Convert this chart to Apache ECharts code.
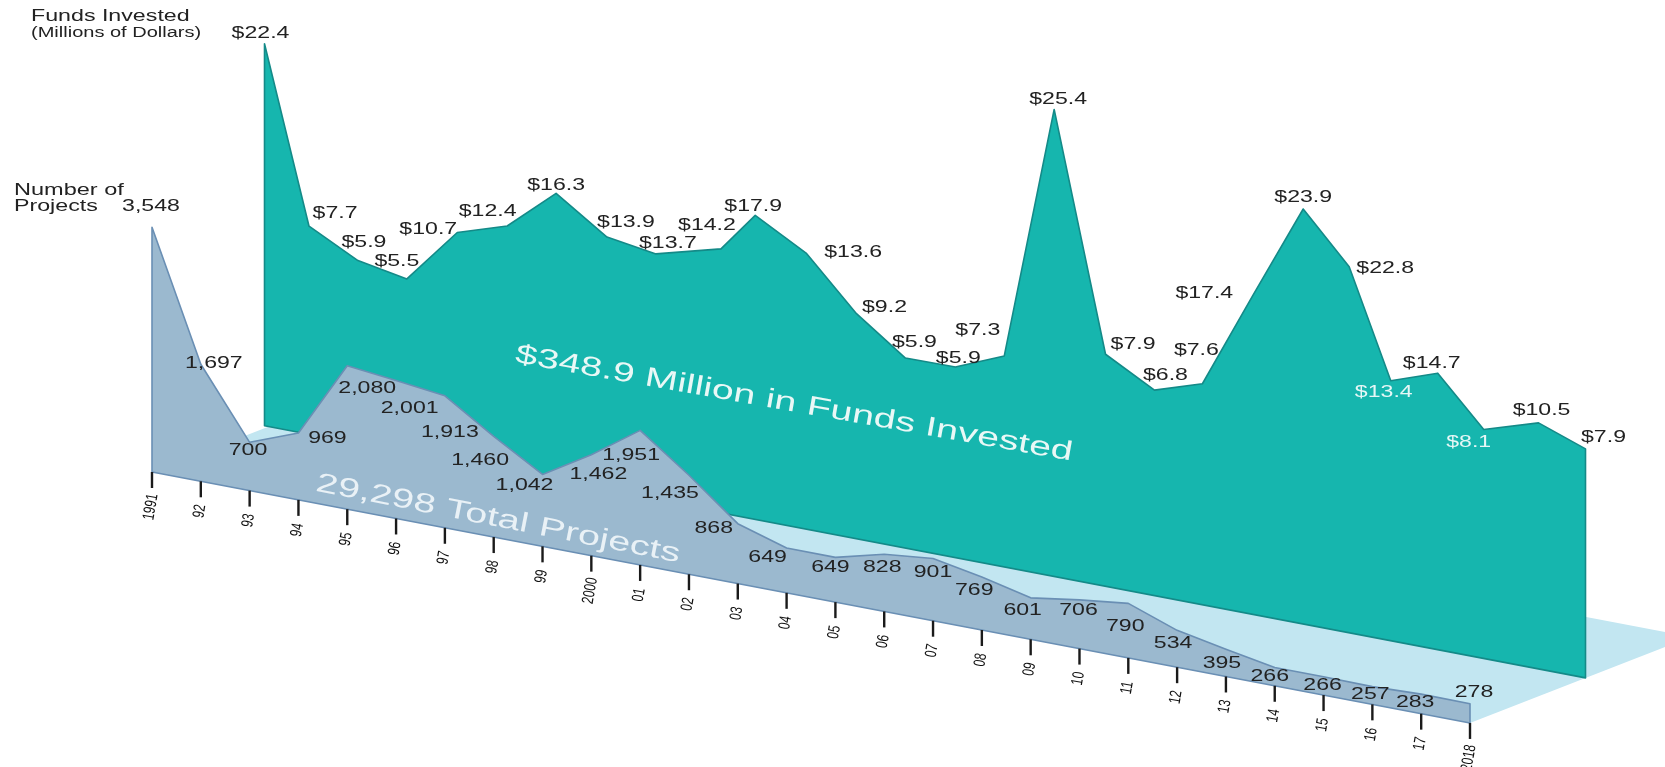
<!DOCTYPE html>
<html>
<head>
<meta charset="utf-8">
<style>html,body{margin:0;padding:0;background:#fff}#c{width:1665px;height:767px}</style>
<script src="https://cdn.jsdelivr.net/npm/echarts@6/dist/echarts.min.js"></script>
</head>
<body>
<div id="c"></div>
<script>
// ---- values ----
const years = [1991,1992,1993,1994,1995,1996,1997,1998,1999,2000,2001,2002,2003,2004,2005,2006,2007,2008,2009,2010,2011,2012,2013,2014,2015,2016,2017,2018];
const tickLabels = ['1991','92','93','94','95','96','97','98','99','2000','01','02','03','04','05','06','07','08','09','10','11','12','13','14','15','16','17','2018'];
const projects = [3548,1697,700,969,2080,2001,1913,1460,1042,1462,1951,1435,868,649,649,828,901,769,601,706,790,534,395,266,266,257,283,278];
const fundsLabels = ['$22.4','$7.7','$5.9','$5.5','$10.7','$12.4','$16.3','$13.9','$13.7','$14.2','$17.9','$13.6','$9.2','$5.9','$5.9','$7.3','$25.4','$7.9','$6.8','$7.6','$17.4','$23.9','$22.8','$13.4','$14.7','$8.1','$10.5','$7.9'];
// The original's funds silhouette is not proportional to its printed values: these are the
// silhouette's heights and year positions as drawn, on the panel's own axis.
const fundsDrawnHeight = [382,208,183,174,230,246,288,254,246.5,264,304,276,225,190,190.5,211,467,232,205.5,221,318,415,366,260,276.5,229,246,229];
const fundsDrawnYear = [1991,1991.91,1992.91,1993.91,1994.94,1995.96,1996.96,1998,1999,2000.33,2001.03,2002.07,2003.1,2004.1,2005.12,2006.12,2007.14,2008.19,2009.19,2010.17,2011.19,2012.23,2013.17,2014.02,2014.98,2015.92,2017.04,2018];

// ---- layout ----
const FONT = '"Liberation Sans", Arial, sans-serif';
const FRONT_SLOPE = 0.1904, BACK_SLOPE = 0.1909;
const FLOOR_DEPTH = [221, -86];
const fundsLabelNudge = [[-4,-10],[26,-13],[6,-18],[-10,-17],[-29,-3],[-19.5,-15],[0,-8],[19,-15],[12,-10],[-14,-23],[-2,-9],[47,-1],[28,-6],[9,-16],[3,-9],[-26.5,-25],[4,-10],[27.5,-10],[11,-15],[-6,-33],[-48,-3],[0,-12],[36,2],[-7,12],[-6,-10],[-15,13],[3,-12],[18,-11.5]];
const fundsWhiteLabels = [23,25];
const projectLabelNudge = [[-1,-20.5],[13,-1],[-1.6,8.2],[29,5.5],[20,23],[13.6,27.5],[5,37],[-13.6,23.7],[-18,10.6],[7,20],[-9,25],[-19,18],[-24,5.2],[-19,9.5],[-5,10.5],[-2,13.2],[0,14],[-7.6,13.5],[-8,12.5],[-1,10.5],[-3,23.2],[-4,13.5],[-4,14.5],[-5,9.5],[-1,8.5],[-2,7.9],[-6,8.5],[4,-11]];

function sheared(api, x, v, slope) {
  const p = api.coord([x, v]);
  const p0 = api.coord([years[0], 0]);
  return [p[0], p[1] + slope * (p[0] - p0[0])];
}
function label(text, p, fill, size, sx) {
  return { type:'text', x:p[0], y:p[1], scaleX:sx || 1.4,
    style:{ text:text, fill:fill, font:(size||16.5)+'px '+FONT, align:'center', verticalAlign:'middle' } };
}
function panel(api, xs, vs, slope, fill, stroke) {
  const pts = xs.map((x,i)=>sheared(api,x,vs[i],slope));
  pts.push(sheared(api,xs[xs.length-1],0,slope));
  pts.push(sheared(api,xs[0],0,slope));
  return { type:'polygon', shape:{points:pts}, style:{fill:fill, stroke:stroke, lineWidth:1.6, lineJoin:'round'} };
}

const series = [
  { // floor
    type:'custom', coordinateSystem:'cartesian2d', xAxisIndex:0, yAxisIndex:0, z:1, silent:true,
    data:[[years[0],0]], encode:{x:0,y:1},
    renderItem:(params,api)=>{
      const a = sheared(api,years[0],0,FRONT_SLOPE), d = sheared(api,years[27],0,FRONT_SLOPE);
      return { type:'polygon', shape:{points:[a,[a[0]+FLOOR_DEPTH[0],a[1]+FLOOR_DEPTH[1]],[d[0]+FLOOR_DEPTH[0],d[1]+FLOOR_DEPTH[1]],d]},
        style:{fill:'#c2e6f1'} };
    }
  },
  { // funds panel
    type:'custom', coordinateSystem:'cartesian2d', xAxisIndex:1, yAxisIndex:1, z:2, silent:true,
    data:[[fundsDrawnYear[0],fundsDrawnHeight[0]]], encode:{x:0,y:1},
    renderItem:(params,api)=>panel(api,fundsDrawnYear,fundsDrawnHeight,BACK_SLOPE,'#16b6ae','#148a88')
  },
  { // projects panel
    type:'custom', coordinateSystem:'cartesian2d', xAxisIndex:0, yAxisIndex:0, z:3, silent:true,
    data:[[years[0],projects[0]]], encode:{x:0,y:1},
    renderItem:(params,api)=>panel(api,years,projects,FRONT_SLOPE,'#9bb9cf','#6a8fb4')
  },
  { // ticks and their rotated year labels
    type:'custom', coordinateSystem:'cartesian2d', xAxisIndex:0, yAxisIndex:0, z:4, silent:true,
    data:years.map(y=>[y,0]), encode:{x:0,y:1},
    renderItem:(params,api)=>{
      const i = params.dataIndex, b = sheared(api,api.value(0),0,FRONT_SLOPE);
      const long = tickLabels[i].length === 4;
      const t = label(tickLabels[i],[b[0]-1,b[1]+(long?35:30)],'#111',16.5,0.72);
      t.rotation = 1.4;
      return { type:'group', children:[
        { type:'line', shape:{x1:b[0],y1:b[1],x2:b[0],y2:b[1]+16}, style:{stroke:'#1a1a1a',lineWidth:2.4} }, t ] };
    }
  },
  { // project number labels
    type:'custom', coordinateSystem:'cartesian2d', xAxisIndex:0, yAxisIndex:0, z:5, silent:true,
    data:years.map((y,i)=>[y,projects[i]]), encode:{x:0,y:1},
    renderItem:(params,api)=>{
      const i = params.dataIndex, p = sheared(api,api.value(0),api.value(1),FRONT_SLOPE), n = projectLabelNudge[i];
      return label(projects[i].toLocaleString('en-US'),[p[0]+n[0],p[1]+n[1]],'#222');
    }
  },
  { // funds labels
    type:'custom', coordinateSystem:'cartesian2d', xAxisIndex:1, yAxisIndex:1, z:5, silent:true,
    data:fundsDrawnYear.map((y,i)=>[y,fundsDrawnHeight[i]]), encode:{x:0,y:1},
    renderItem:(params,api)=>{
      const i = params.dataIndex, p = sheared(api,api.value(0),api.value(1),BACK_SLOPE), n = fundsLabelNudge[i];
      return label(fundsLabels[i],[p[0]+n[0],p[1]+n[1]],fundsWhiteLabels.includes(i)?'#e6f7f6':'#222');
    }
  }
];

function note(text, x, y, size, sx, fill, rot, alignLeft) {
  return { type:'text', x:x, y:y, scaleX:sx, rotation:rot||0, z:100, silent:true,
    style:{ text:text, fill:fill, font:size+'px '+FONT, align:alignLeft?'left':'center', verticalAlign:'middle' } };
}

const chart = echarts.init(document.getElementById('c'), null, {renderer:'canvas'});
chart.setOption({
  animation:false,
  backgroundColor:'#fff',
  tooltip:{show:false},
  grid:[
    {left:152, top:172, width:1318, height:300},
    {left:264.5, top:0, width:1321, height:425.7}
  ],
  xAxis:[
    {type:'value', gridIndex:0, min:1991, max:2018, show:false},
    {type:'value', gridIndex:1, min:1991, max:2018, show:false}
  ],
  yAxis:[
    {type:'value', gridIndex:0, min:0, max:4350, show:false},
    {type:'value', gridIndex:1, min:0, max:425.7, show:false}
  ],
  series:series,
  graphic:[
    note('Funds Invested',31,17,16,1.45,'#222',0,true),
    note('(Millions of Dollars)',31,33,14,1.43,'#222',0,true),
    note('Number of',14,191,16,1.47,'#222',0,true),
    note('Projects',14,207,16,1.45,'#222',0,true),
    note('$348.9 Million in Funds Invested',794,404,27,1.46,'#e9f8f6',-0.175),
    note('29,298 Total Projects',498,519,27,1.47,'#e9f1f6',-0.195)
  ]
});
</script>
</body>
</html>
